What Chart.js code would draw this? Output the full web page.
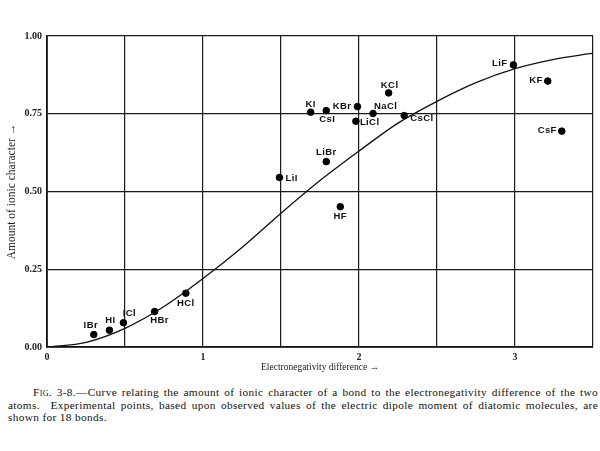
<!DOCTYPE html>
<html>
<head>
<meta charset="utf-8">
<script src="https://cdn.jsdelivr.net/npm/chart.js@4.4.1/dist/chart.umd.min.js"></script>
<style>
  html, body { margin: 0; padding: 0; background: #fff; }
  body { width: 600px; height: 451px; position: relative; overflow: hidden; }
  #wrap { position: absolute; left: 0; top: 0; width: 600px; height: 380px; }
  #cap { position: absolute; left: 8px; top: 386px; width: 590px;
         font-family: "Liberation Serif", "DejaVu Serif", serif; font-size: 11.3px; line-height: 12.6px;
         color: #111; letter-spacing: 0.35px; }
  #cap div { white-space: nowrap; }
  #cap .j { text-align: justify; text-align-last: justify; }
  #cap .first { padding-left: 25px; }
  .sc { font-variant: small-caps; }
</style>
</head>
<body>
<div id="wrap"><canvas id="c" width="600" height="380"></canvas></div>
<div id="cap">
  <div class="j first"><span class="sc">Fig.</span> 3-8.—Curve relating the amount of ionic character of a bond to the electronegativity difference of the two</div>
  <div class="j">atoms. &nbsp;Experimental points, based upon observed values of the electric dipole moment of diatomic molecules, are</div>
  <div>shown for 18 bonds.</div>
</div>
<script>
// ---- data ----
const bonds      = ["IBr","HI","ICl","HBr","HCl","LiI","LiBr","HF","KI","CsI","KBr","LiCl","NaCl","KCl","CsCl","LiF","KF","CsF"];
const enDiff     = [0.30, 0.40, 0.49, 0.69, 0.89, 1.49, 1.79, 1.88, 1.69, 1.79, 1.99, 1.98, 2.09, 2.19, 2.29, 2.99, 3.21, 3.30];
const ionicChar  = [0.040,0.054,0.078,0.114,0.173,0.545,0.596,0.451,0.755,0.760,0.773,0.726,0.751,0.817,0.744,0.907,0.855,0.694];
const curveX     = [0, 0.25, 0.5, 0.75, 1.0, 1.25, 1.5, 1.75, 2.0, 2.25, 2.5, 2.75, 3.0, 3.25, 3.5];
const curveY     = [0, 0.015, 0.06, 0.13, 0.22, 0.32, 0.43, 0.535, 0.63, 0.72, 0.79, 0.85, 0.895, 0.925, 0.945];
const yTicks     = [0, 0.25, 0.5, 0.75, 1.0];
const xGridTicks = [0, 0.5, 1, 1.5, 2, 2.5, 3, 3.5];
const xLabelTicks= [0, 1, 2, 3];

// label placement (style): [dx, dy, align]
const labelPlace = {
  IBr:[-3,-9,"center"], HI:[1,-10,"center"], ICl:[6,-9,"center"], HBr:[5,9,"center"], HCl:[0,10,"center"],
  LiI:[6,1,"left"], LiBr:[0,-9,"center"], HF:[0,10,"center"], KI:[0,-8,"center"], CsI:[1,9,"center"],
  KBr:[-6,0,"right"], LiCl:[4,1,"left"], NaCl:[1,-7,"left"], KCl:[1,-8,"center"], CsCl:[6,3,"left"],
  LiF:[-6,-2,"right"], KF:[-5,-1,"right"], CsF:[-5,-1,"right"]
};

const labelPlugin = {
  id: 'pointLabels',
  afterDatasetsDraw(chart) {
    const meta = chart.getDatasetMeta(1);
    const ctx = chart.ctx;
    ctx.save();
    ctx.fillStyle = '#111';
    ctx.font = 'bold 9.5px "Liberation Sans", Arial, sans-serif';
    try { ctx.letterSpacing = '0.4px'; } catch (e) {}
    ctx.textBaseline = 'middle';
    meta.data.forEach((pt, i) => {
      const name = bonds[i];
      const p = labelPlace[name];
      ctx.textAlign = p[2];
      ctx.fillText(name, pt.x + p[0], pt.y + p[1]);
    });
    ctx.restore();
  }
};

const serif = '"Liberation Serif", "DejaVu Serif", serif';

new Chart(document.getElementById('c'), {
  type: 'scatter',
  data: {
    datasets: [
      {
        type: 'line',
        data: curveX.map((x, i) => ({x, y: curveY[i]})),
        borderColor: '#111', borderWidth: 1.3, pointRadius: 0,
        cubicInterpolationMode: 'monotone', fill: false
      },
      {
        data: enDiff.map((x, i) => ({x, y: ionicChar[i]})),
        backgroundColor: '#000', borderColor: '#000', pointRadius: 3.3, pointHoverRadius: 3.3
      }
    ]
  },
  options: {
    responsive: false, animation: false,
    layout: { padding: { top: 36, right: 7, left: 0, bottom: 0 } },
    plugins: { legend: { display: false }, tooltip: { enabled: false } },
    scales: {
      x: {
        type: 'linear', min: 0, max: 3.5,
        afterFit(s) { s.height = 33; },
        afterBuildTicks(s) { s.ticks = xGridTicks.map(v => ({value: v})); },
        grid: { color: '#1a1a1a', lineWidth: 1.2, drawTicks: false },
        border: { color: '#111', width: 1.8 },
        ticks: {
          padding: 4, color: '#222', maxRotation: 0, autoSkip: false,
          font: { family: serif, size: 10, weight: 'bold' },
          callback: v => xLabelTicks.includes(v) ? String(v) : ''
        },
        title: { display: true, text: 'Electronegativity difference →', color: '#222',
                 font: { family: serif, size: 9.5 }, padding: { top: 0, bottom: 7 } }
      },
      y: {
        type: 'linear', min: 0, max: 1,
        afterFit(s) { s.width = 47; },
        afterBuildTicks(s) { s.ticks = yTicks.map(v => ({value: v})); },
        grid: { color: '#1a1a1a', lineWidth: 1.2, drawTicks: false },
        border: { color: '#111', width: 1.8 },
        ticks: {
          padding: 5, color: '#222',
          font: { family: serif, size: 10, weight: 'bold' },
          callback: v => Number(v).toFixed(2)
        },
        title: { display: true, text: 'Amount of ionic character →', color: '#222',
                 font: { family: serif, size: 11.5 }, padding: { top: 5, bottom: 0 } }
      }
    }
  },
  plugins: [labelPlugin]
});
</script>
</body>
</html>
